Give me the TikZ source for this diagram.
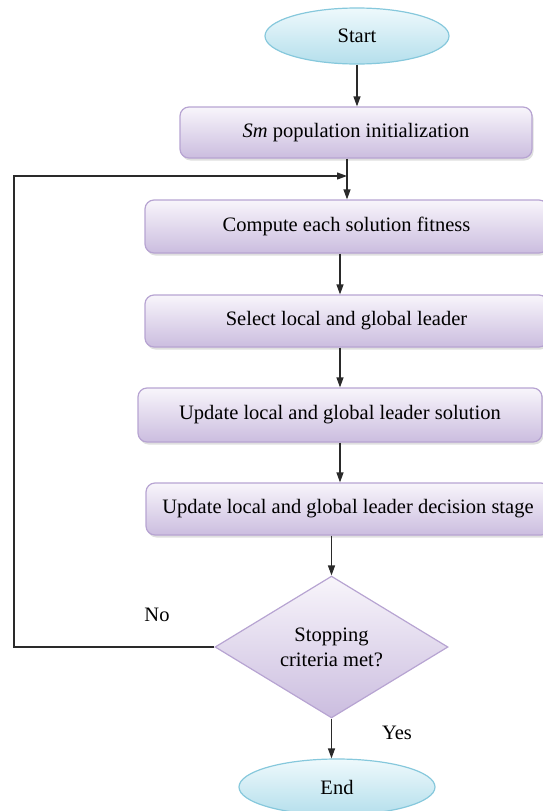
\documentclass[tikz,border=0pt]{standalone}
\usepackage{fontspec}
\setmainfont{Liberation Serif}
\usetikzlibrary{shapes.geometric,arrows.meta,shadows}
\definecolor{lineC}{HTML}{2A2A2A}
\definecolor{ellTop}{HTML}{EEF9FC}
\definecolor{ellBot}{HTML}{B5DFEC}
\definecolor{ellLine}{HTML}{86C8DC}
\definecolor{boxTop}{HTML}{F8F5FB}
\definecolor{boxBot}{HTML}{CBBDDF}
\definecolor{boxLine}{HTML}{B7A4D2}
\tikzset{
  every node/.style={font=\fontsize{20.5}{25}\selectfont, text=black},
  termbox/.style={ellipse, draw=ellLine, line width=1.2pt, top color=ellTop, bottom color=ellBot, inner sep=0pt},
  procbox/.style={rectangle, rounded corners=9pt, draw=boxLine, line width=1.2pt, top color=boxTop, bottom color=boxBot, inner sep=0pt,
     drop shadow={opacity=0.25, shadow xshift=1.5pt, shadow yshift=-2.5pt}},
  decbox/.style={diamond, draw=boxLine, line width=1.2pt, top color=boxTop, bottom color=boxBot, inner sep=0pt, align=center},
  arr/.style={draw=lineC, line width=1.2pt, -{Triangle[length=10pt,width=7pt]}},
  conn/.style={draw=lineC, line width=1.2pt},
}
\begin{document}
\begin{tikzpicture}[x=1pt,y=-1pt]
\useasboundingbox (0,0) rectangle (543,811);
\node[termbox, minimum width=184pt, minimum height=56pt] (start) at (357,36) {Start};
\node[procbox, minimum width=352pt, minimum height=51pt] (b1) at (356,132.5) {\textit{Sm} population initialization};
\node[procbox, minimum width=403pt, minimum height=53pt] (b2) at (346.5,226.5) {Compute each solution fitness};
\node[procbox, minimum width=403pt, minimum height=52pt] (b3) at (346.5,321) {Select local and global leader};
\node[procbox, minimum width=404pt, minimum height=54pt] (b4) at (340,415) {Update local and global leader solution};
\node[procbox, minimum width=404pt, minimum height=52pt] (b5) at (348,509) {Update local and global leader decision stage};
\node[decbox, minimum width=233pt, minimum height=137pt] (dia) at (331.5,647) {Stopping\\criteria met?};
\node[termbox, minimum width=196pt, minimum height=56pt] (end) at (337,787) {End};
\node (no) at (157,615) {No};
\node (yes) at (397,733) {Yes};
\coordinate (col) at (340,0);
\coordinate (j) at (347,176);
\coordinate (lc) at (14,647);
\draw[arr] (start.south) -- (b1.north -| start.south);
\draw[arr] (b1.south -| j) -- (b2.north -| j);
\draw[arr] (dia.west) -- (lc) |- (j);
\draw[arr] (b2.south -| col) -- (b3.north -| col);
\draw[arr] (b3.south -| col) -- (b4.north -| col);
\draw[arr] (b4.south -| col) -- (b5.north -| col);
\draw[arr] (b5.south -| dia.north) -- (dia.north);
\draw[arr] (dia.south) -- (end.north -| dia.south);
\end{tikzpicture}
\end{document}
